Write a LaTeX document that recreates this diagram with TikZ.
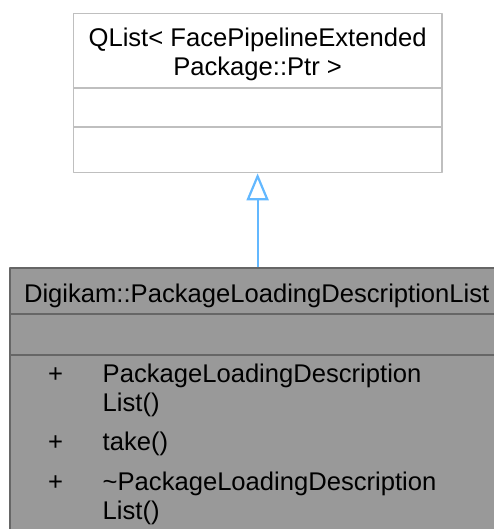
\documentclass[tikz,border=0pt]{standalone}
\usepackage{fontspec}
\setmainfont{Liberation Sans}
\usetikzlibrary{arrows.meta}
\definecolor{edgeblue}{HTML}{63B8FF}
\definecolor{boxline}{HTML}{BFBFBF}
\definecolor{nodeline}{HTML}{666666}
\definecolor{nodefill}{HTML}{999999}
\newcommand{\umlfont}{\fontsize{25.6pt}{29.3pt}\selectfont}
\tikzset{
  every picture/.style={line join=round, >=Stealth},
  classbox/.style={rectangle, inner sep=0pt, line width=1.7pt},
  divider/.style={line width=1.7pt},
  umltext/.style={inner sep=0pt, anchor=base, font=\umlfont},
  member/.style={umltext, anchor=base west},
}

\begin{document}
\begin{tikzpicture}[x=1pt,y=-1pt]
\useasboundingbox (0,0) rectangle (494,529);
% base class
\node[classbox,draw=boxline,fill=white,minimum width=368.2pt,minimum height=159pt] (qlist) at (257.6,93) {};
\draw[boxline,divider] (73.5,88.3) -- (441.7,88.3);
\draw[boxline,divider] (73.5,127.3) -- (441.7,127.3);
\node[umltext] (qlistTitleA) at (257.6,46.7) {QList< FacePipelineExtended};
\node[umltext] (qlistTitleB) at (257.6,76) {Package::Ptr >};
% derived class
\node[classbox,draw=nodeline,fill=nodefill,minimum width=490pt,minimum height=270pt] (pkgList) at (255,403.3) {};
\draw[nodeline,divider] (10,314.3) -- (500,314.3);
\draw[nodeline,divider] (10,355.3) -- (500,355.3);
\node[umltext] (pkgTitle) at (256.7,302.7) {Digikam::PackageLoadingDescriptionList};
\node[umltext] (plusA) at (55.7,382.7) {+};
\node[member] (ctorA) at (102.5,382.7) {PackageLoadingDescription};
\node[member] (ctorB) at (102.5,411.3) {List()};
\node[umltext] (plusB) at (55.7,450.7) {+};
\node[member] (take) at (102.5,450.7) {take()};
\node[umltext] (plusC) at (55.7,490.7) {+};
\node[member] (dtorA) at (102.5,490.7) {\textasciitilde PackageLoadingDescription};
\node[member] (dtorB) at (102.5,519.3) {List()};
% inheritance
\draw[edgeblue,line width=2.2pt,-{Triangle[open,length=27pt,width=22pt]}] (pkgList.north -| qlist.south) -- (qlist.south);
\end{tikzpicture}
\end{document}
